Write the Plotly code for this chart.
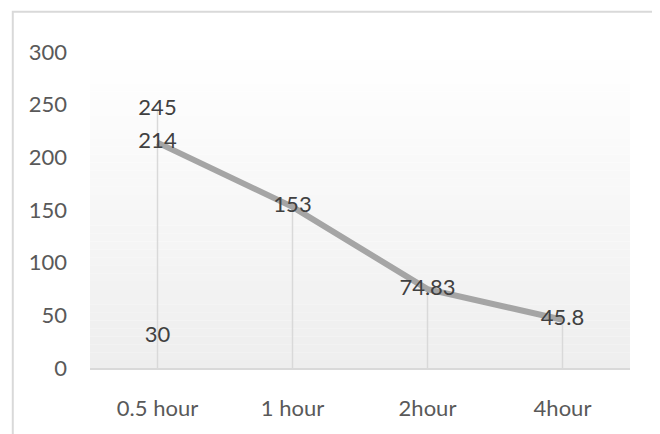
import plotly.graph_objects as go

categories = ["0.5 hour", "1 hour", "2hour", "4hour"]
values = [214, 153, 74.83, 45.8]
high_values = [245, None, None, None]
low_values = [30, None, None, None]
y_ticks = [0, 50, 100, 150, 200, 250, 300]

FONT = "Lato"
fig = go.Figure()

# drop lines from the highest value at each category down to the axis
drop_x, drop_y = [], []
for i, c in enumerate(categories):
    vals = [v for v in (values[i], high_values[i], low_values[i]) if v is not None]
    drop_x += [c, c, None]
    drop_y += [0, max(vals), None]
fig.add_trace(go.Scatter(x=drop_x, y=drop_y, mode="lines",
                         line=dict(color="#D9D9D9", width=1.5),
                         hoverinfo="skip", showlegend=False))

fig.add_trace(go.Scatter(x=categories, y=values, mode="lines",
                         line=dict(color="#A5A5A5", width=6),
                         showlegend=False))

def fmt(v):
    return None if v is None else f"{v:g}"

for series in (values, high_values, low_values):
    fig.add_trace(go.Scatter(x=categories, y=series, mode="text",
                             text=[fmt(v) for v in series],
                             textposition="middle center",
                             textfont=dict(family=FONT, size=22, color="#404040"),
                             showlegend=False, hoverinfo="skip"))

# gradient plot background
n = 40
top = (255, 255, 255)
bot = (238, 238, 238)
for k in range(n):
    t = (k + 0.5) / n
    c = tuple(round(top[j] + (bot[j] - top[j]) * (1 - t)) for j in range(3))
    fig.add_shape(type="rect", xref="paper", yref="paper",
                  x0=0, x1=1, y0=k / n, y1=(k + 1) / n,
                  fillcolor=f"rgb{c}", line=dict(width=0), layer="below")

# outer border
fig.add_shape(type="rect", xref="paper", yref="paper",
              x0=-0.143, x1=1.048, y0=-0.25, y1=1.127,
              line=dict(color="#D9D9D9", width=2), fillcolor="rgba(0,0,0,0)",
              layer="below")

fig.update_layout(
    width=660, height=434,
    margin=dict(l=82, r=38, t=44, b=74),
    paper_bgcolor="white", plot_bgcolor="white",
    font=dict(family=FONT, size=22, color="#595959"),
    xaxis=dict(type="category", categoryorder="array", categoryarray=categories,
               range=[-0.5, 3.5], showgrid=False, zeroline=False,
               showline=True, linecolor="#D9D9D9", linewidth=2,
               ticks="", ticklabelstandoff=20,
               tickfont=dict(family=FONT, size=22, color="#595959")),
    yaxis=dict(range=[0, 300], tickvals=y_ticks, showgrid=False, zeroline=False,
               showline=False, ticks="", ticklabelstandoff=22,
               tickfont=dict(family=FONT, size=22, color="#595959")),
)

fig.write_html("out.html")
